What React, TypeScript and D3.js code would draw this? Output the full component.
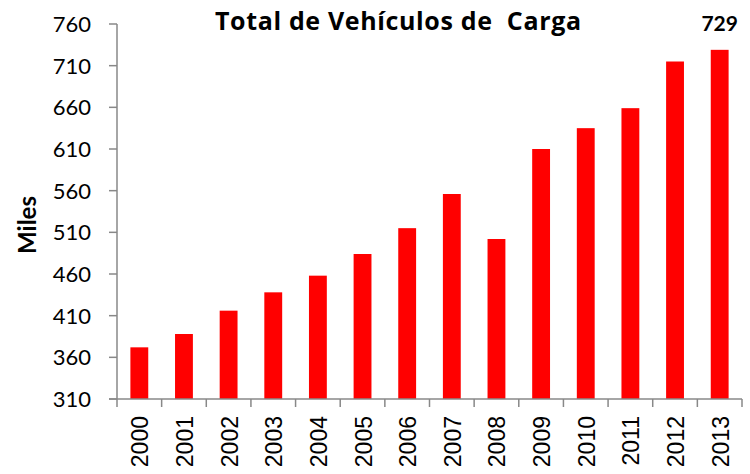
import React from "react";
import * as d3 from "d3";

const years = ["2000","2001","2002","2003","2004","2005","2006","2007","2008","2009","2010","2011","2012","2013"];
const values = [372, 388, 416, 438, 458, 484, 515, 556, 502, 610, 635, 659, 715, 729];
const yTicks = [310, 360, 410, 460, 510, 560, 610, 660, 710, 760];
const title = "Total de Vehículos de  Carga";
const yLabel = "Miles";

const W = 750, H = 474;
const left = 117, right = 742, top = 24, bottom = 399;
const axisColor = "#888888";

export default function App() {
  const x = d3.scaleBand<string>().domain(years).range([left, right]).paddingInner(0.6).paddingOuter(0.3);
  const xb = d3.scaleBand<string>().domain(years).range([left, right]);
  const y = d3.scaleLinear().domain([310, 760]).range([bottom, top]);
  const last = years.length - 1;
  return (
    <svg width={W} height={H} style={{ position: "absolute", left: 0, top: 0, background: "#fff" }}>
      <text x={398} y={30} textAnchor="middle" fontFamily="Open Sans" fontWeight="bold" fontSize={25} textLength={366} lengthAdjust="spacing" style={{ whiteSpace: "pre" }}>{title}</text>
      <text transform={`translate(36,225) rotate(-90)`} textAnchor="middle" fontFamily="Lato" fontWeight="bold" fontSize={24}>{yLabel}</text>
      {years.map((yr, i) => (
        <rect key={yr} x={x(yr)} y={y(values[i])} width={x.bandwidth()} height={bottom - y(values[i])} fill="#FF0000" />
      ))}
      <text x={(x(years[last]) as number) + x.bandwidth() / 2} y={31} textAnchor="middle" fontFamily="Lato" fontWeight="bold" fontSize={21}>{values[last]}</text>
      <line x1={left} x2={left} y1={top} y2={bottom} stroke={axisColor} strokeWidth={1.5} />
      <line x1={left - 8} x2={right} y1={bottom} y2={bottom} stroke={axisColor} strokeWidth={1.5} />
      {yTicks.map(t => (
        <g key={t}>
          <line x1={left - 8} x2={left} y1={y(t)} y2={y(t)} stroke={axisColor} strokeWidth={1.5} />
          <text x={91} y={y(t)} dy="0.36em" textAnchor="end" fontFamily="Lato" fontSize={22} fill="#000">{t}</text>
        </g>
      ))}
      {years.map(yr => (
        <line key={"t" + yr} x1={xb(yr)} x2={xb(yr)} y1={bottom} y2={bottom + 8} stroke={axisColor} strokeWidth={1.5} />
      ))}
      <line x1={right} x2={right} y1={bottom} y2={bottom + 8} stroke={axisColor} strokeWidth={1.5} />
      {years.map(yr => (
        <text key={"l" + yr} transform={`translate(${(xb(yr) as number) + xb.bandwidth() / 2 + 9},416) rotate(-90)`} textAnchor="end" fontFamily="Liberation Sans" fontSize={23} fill="#000">{yr}</text>
      ))}
    </svg>
  );
}
